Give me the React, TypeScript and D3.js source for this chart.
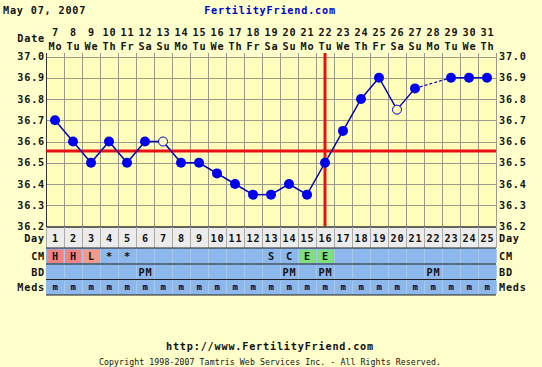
import React from 'react';
import * as d3 from 'd3';

// Cycle data
const cycleDays = d3.range(1, 26);
const dates = [7, 8, 9, 10, 11, 12, 13, 14, 15, 16, 17, 18, 19, 20, 21, 22, 23, 24, 25, 26, 27, 28, 29, 30, 31];
const weekdays = ['Mo', 'Tu', 'We', 'Th', 'Fr', 'Sa', 'Su', 'Mo', 'Tu', 'We', 'Th', 'Fr', 'Sa', 'Su', 'Mo', 'Tu', 'We', 'Th', 'Fr', 'Sa', 'Su', 'Mo', 'Tu', 'We', 'Th'];
// null = no temp taken
const temps = [36.7, 36.6, 36.5, 36.6, 36.5, 36.6, 36.6, 36.5, 36.5, 36.45, 36.4, 36.35, 36.35, 36.4, 36.35, 36.5, 36.65, 36.8, 36.9, 36.75, 36.85, null, 36.9, 36.9, 36.9];
const discarded = [7, 20];
const yTicks = [37.0, 36.9, 36.8, 36.7, 36.6, 36.5, 36.4, 36.3, 36.2];
const coverline = 36.555;
const ovulationDay = 16;

const cmValues = ['H', 'H', 'L', '*', '*', '', '', '', '', '', '', '', 'S', 'C', 'E', 'E', '', '', '', '', '', '', '', '', ''];
const bdValues = ['', '', '', '', '', 'PM', '', '', '', '', '', '', '', 'PM', '', 'PM', '', '', '', '', '', 'PM', '', '', ''];
const medsValues = cycleDays.map(() => 'm');

const cmColor: Record<string, string> = { H: '#f08484', L: '#f39a8a', E: '#7ee07e' };

const W = 542;
const H = 367;
const font = '"DejaVu Sans Mono", monospace';

const App = () => {
  const x = d3.scaleBand<number>().domain(cycleDays).range([46, 496]).padding(0);
  const y = d3.scaleLinear().domain([36.2, 37.0]).range([226.5, 56.5]);
  const cx = (d: number) => (x(d) as number) + x.bandwidth() / 2;

  const pts = cycleDays.map((d, i) => ({ day: d, t: temps[i] })).filter(p => p.t !== null) as { day: number; t: number }[];
  const line = d3.line<{ day: number; t: number }>().x(p => cx(p.day)).y(p => y(p.t));

  // solid segments between consecutive days, dashed across gaps
  const solid: { day: number; t: number }[][] = [];
  const gaps: { day: number; t: number }[][] = [];
  pts.forEach((p, i) => {
    if (i === 0) return;
    const prev = pts[i - 1];
    (p.day - prev.day === 1 ? solid : gaps).push([prev, p]);
  });

  const rows = [
    { label: 'CM', top: 248, bottom: 264 },
    { label: 'BD', top: 264, bottom: 279.5 },
    { label: 'Meds', top: 279.5, bottom: 295 },
  ];

  const bold = { fontFamily: font, fontWeight: 700, fontSize: 10.2, letterSpacing: 0.8 } as const;

  return (
    <svg width={W} height={H} style={{ position: 'absolute', left: 0, top: 0, background: '#ffffcc' }}>
      <rect width={W} height={H} fill="#ffffcc" />
      <text x={3} y={14} {...bold} fill="#111">May 07, 2007</text>
      <text x={270} y={14} {...bold} fill="#0000cc" textAnchor="middle">FertilityFriend.com</text>

      {/* date header */}
      <text x={45} y={42} {...bold} fill="#111" textAnchor="end">Date</text>
      {cycleDays.map((d, i) => (
        <g key={'h' + d}>
          <text x={cx(d) + 0.5} y={36} {...bold} fill="#111" textAnchor="middle">{dates[i]}</text>
          <text x={cx(d) + 0.5} y={49.5} {...bold} fill="#111" textAnchor="middle">{weekdays[i]}</text>
        </g>
      ))}

      {/* plot area */}
      <rect x={46} y={y(37.0)} width={450} height={y(36.2) - y(37.0)} fill="#ffffbb" />
      {yTicks.map(t => (
        <line key={'gy' + t} x1={46} x2={496} y1={Math.round(y(t)) + 0.5} y2={Math.round(y(t)) + 0.5} stroke="#9a9a8a" strokeWidth={1} />
      ))}
      {d3.range(0, 26).map(k => (
        <line key={'gx' + k} x1={46 + k * 18 + 0.5} x2={46 + k * 18 + 0.5} y1={53} y2={y(36.2)} stroke="#9a9a8a" strokeWidth={1} />
      ))}
      <line x1={46.5} x2={46.5} y1={53} y2={295} stroke="#333" strokeWidth={1} />
      {yTicks.map(t => (
        <g key={'yl' + t}>
          <text x={45} y={y(t) + 3.5} {...bold} fill="#111" textAnchor="end">{t.toFixed(1)}</text>
          <text x={499} y={y(t) + 3.5} {...bold} fill="#111">{t.toFixed(1)}</text>
        </g>
      ))}

      {/* coverline & ovulation */}
      <line x1={46} x2={496} y1={y(coverline)} y2={y(coverline)} stroke="#e81010" strokeWidth={3} />
      <line x1={cx(ovulationDay)} x2={cx(ovulationDay)} y1={53} y2={y(36.2)} stroke="#e81010" strokeWidth={3} />

      {/* temps */}
      {solid.map((s, i) => (
        <path key={'s' + i} d={line(s) as string} fill="none" stroke="#0000b0" strokeWidth={1.5} />
      ))}
      {gaps.map((s, i) => (
        <path key={'g' + i} d={line(s) as string} fill="none" stroke="#0000b0" strokeWidth={1.2} strokeDasharray="3,2" />
      ))}
      {pts.map(p =>
        discarded.includes(p.day) ? (
          <circle key={'p' + p.day} cx={cx(p.day)} cy={y(p.t)} r={4.5} fill="#ffffbb" stroke="#0000dd" strokeWidth={1} />
        ) : (
          <circle key={'p' + p.day} cx={cx(p.day)} cy={y(p.t)} r={5} fill="#0000f0" />
        )
      )}

      {/* day row */}
      <rect x={46} y={227} width={450} height={21} fill="#ececec" />
      <line x1={46} x2={496} y1={227} y2={227} stroke="#333" strokeWidth={1.5} />
      {d3.range(0, 26).map(k => (
        <line key={'dx' + k} x1={46 + k * 18 + 0.5} x2={46 + k * 18 + 0.5} y1={227} y2={248} stroke="#aaa" strokeWidth={1} />
      ))}
      <text x={45} y={242} {...bold} fill="#111" textAnchor="end">Day</text>
      <text x={499} y={242} {...bold} fill="#111">Day</text>
      {cycleDays.map(d => (
        <text key={'dn' + d} x={cx(d) + 0.5} y={242} {...bold} fill="#111" textAnchor="middle">{d}</text>
      ))}

      {/* CM / BD / Meds rows */}
      {rows.map((r, ri) => {
        const vals = ri === 0 ? cmValues : ri === 1 ? bdValues : medsValues;
        return (
          <g key={r.label}>
            <rect x={46} y={r.top} width={450} height={r.bottom - r.top} fill="#8cb8ec" />
            {cycleDays.map((d, i) => {
              const v = vals[i];
              const bg = ri === 0 ? cmColor[v] : undefined;
              return (
                <g key={r.label + d}>
                  {bg && <rect x={(x(d) as number) + 1} y={r.top + 1.5} width={16} height={r.bottom - r.top - 2.5} fill={bg} />}
                  <line x1={(x(d) as number) + 18.5} x2={(x(d) as number) + 18.5} y1={r.top + 1} y2={r.bottom - 1} stroke="#a9c8ef" strokeWidth={1} />
                  {v && (
                    <text x={cx(d) + 0.5} y={(r.top + r.bottom) / 2 + (ri === 2 ? 3 : 4)} fontFamily={font} fontWeight={700}
                      fontSize={ri === 2 ? 9 : 10.2} letterSpacing={0.8} fill={ri === 2 ? '#00004a' : '#111'} textAnchor="middle">{v}</text>
                  )}
                </g>
              );
            })}
            <line x1={46} x2={496} y1={r.top} y2={r.top} stroke="#222" strokeWidth={1.2} />
            <text x={45} y={(r.top + r.bottom) / 2 + 4} {...bold} fill="#111" textAnchor="end">{r.label}</text>
            <text x={499} y={(r.top + r.bottom) / 2 + 4} {...bold} fill="#111">{r.label}</text>
          </g>
        );
      })}
      <line x1={46} x2={496} y1={295} y2={295} stroke="#222" strokeWidth={1.2} />

      {/* footer */}
      <text x={270} y={350} {...bold} fill="#111" textAnchor="middle">http://www.FertilityFriend.com</text>
      <text x={270} y={365} fontFamily={font} fontSize={8.2} letterSpacing={0.1} fill="#111" textAnchor="middle">Copyright 1998-2007 Tamtris Web Services Inc. - All Rights Reserved.</text>
    </svg>
  );
};

export default App;
